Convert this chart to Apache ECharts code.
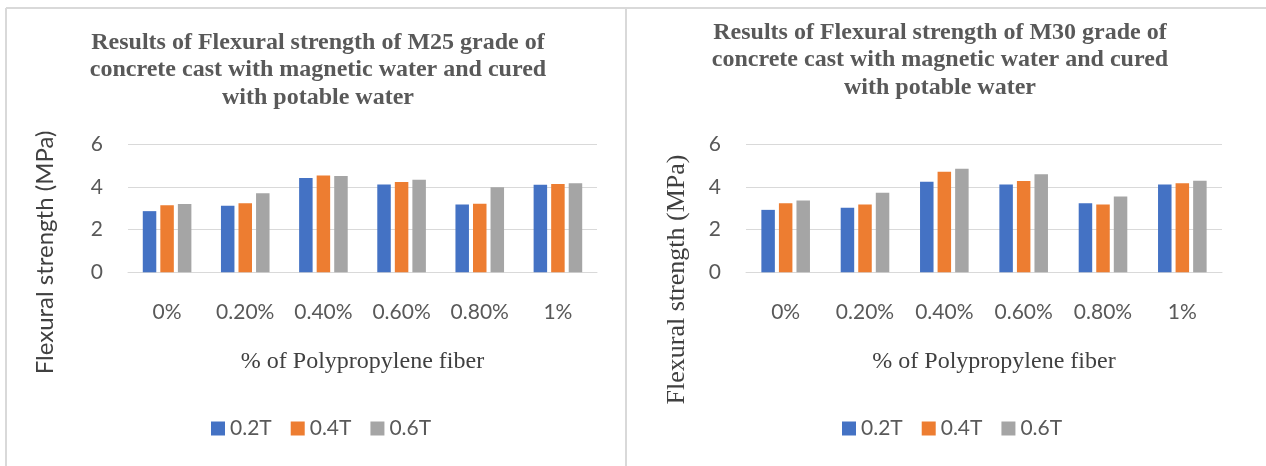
<!DOCTYPE html>
<html>
<head>
<meta charset="utf-8">
<script src="https://cdn.jsdelivr.net/npm/echarts@6/dist/echarts.min.js"></script>
<style>
  html, body { margin: 0; padding: 0; background: #ffffff; }
  #chart { width: 1266px; height: 466px; }
</style>
</head>
<body>
<div id="chart"></div>
<script>
// ---- data ----
const categories = ['0%', '0.20%', '0.40%', '0.60%', '0.80%', '1%'];
const seriesNames = ['0.2T', '0.4T', '0.6T'];
const m25_02T = [2.86, 3.11, 4.41, 4.11, 3.17, 4.09];
const m25_04T = [3.14, 3.23, 4.53, 4.22, 3.20, 4.13];
const m25_06T = [3.19, 3.70, 4.50, 4.33, 3.98, 4.16];
const m30_02T = [2.92, 3.02, 4.23, 4.11, 3.23, 4.11];
const m30_04T = [3.23, 3.17, 4.70, 4.27, 3.17, 4.16];
const m30_06T = [3.36, 3.72, 4.84, 4.58, 3.55, 4.28];
const yTicks = { min: 0, max: 6, interval: 2 };
const titleLeft = 'Results of Flexural strength of M25 grade of\nconcrete cast with magnetic water and cured\nwith potable water';
const titleRight = 'Results of Flexural strength of M30 grade of\nconcrete cast with magnetic water and cured\nwith potable water';
const xName = '% of Polypropylene fiber';
const yName = 'Flexural strength (MPa)';

// ---- style ----
const colors = ['#4472C4', '#ED7D31', '#A5A5A5'];
const sans = 'Lato, "Liberation Sans", sans-serif';
const serif = '"Liberation Serif", "DejaVu Serif", serif';
const labelColor = '#595959';
const gridColor = '#d9d9d9';

const chart = echarts.init(document.getElementById('chart'), null, { renderer: 'canvas' });

function makeTitle(text, x, top) {
  return {
    text: text,
    left: x,
    top: top,
    padding: 0,
    textAlign: 'center',
    textStyle: {
      fontFamily: serif,
      fontWeight: 'bold',
      fontSize: 24,
      lineHeight: 27.5,
      color: labelColor
    }
  };
}

function makeX(gridIndex, namePad) {
  return {
    type: 'category',
    gridIndex: gridIndex,
    data: categories,
    name: xName,
    nameLocation: 'middle',
    nameGap: 77,
    nameTextStyle: { fontFamily: serif, fontSize: 24, color: '#404040', padding: namePad },
    axisTick: { show: false },
    axisLine: { show: true, lineStyle: { color: gridColor, width: 1 } },
    axisLabel: { margin: 29, fontFamily: sans, fontSize: 21, color: labelColor }
  };
}

function makeY(gridIndex) {
  return {
    type: 'value',
    gridIndex: gridIndex,
    min: yTicks.min,
    max: yTicks.max,
    interval: yTicks.interval,
    axisLine: { show: false },
    axisTick: { show: false },
    axisLabel: { margin: 25, fontFamily: sans, fontSize: 21, color: labelColor },
    splitLine: { lineStyle: { color: gridColor, width: 1 } }
  };
}

function makeBar(name, data, idx, axisIdx) {
  return {
    type: 'bar',
    name: name,
    data: data,
    xAxisIndex: axisIdx,
    yAxisIndex: axisIdx,
    barWidth: 13.5,
    barGap: '30%',
    itemStyle: { color: colors[idx] },
    emphasis: { disabled: true }
  };
}

function makeLegend(left) {
  return {
    data: seriesNames,
    left: left,
    top: 418,
    padding: 0,
    orient: 'horizontal',
    icon: 'rect',
    itemWidth: 14,
    itemHeight: 14,
    itemGap: 19,
    textStyle: { fontFamily: sans, fontSize: 21, color: labelColor },
    selectedMode: false
  };
}

const option = {
  backgroundColor: '#ffffff',
  animation: false,
  color: colors,
  title: [
    makeTitle(titleLeft, 318, 29),
    makeTitle(titleRight, 940, 19)
  ],
  legend: [makeLegend(211), makeLegend(842)],
  grid: [
    { left: 128, right: 1266 - 597, top: 144, bottom: 466 - 272.3, containLabel: false, outerBoundsMode: 'none' },
    { left: 746, right: 1266 - 1222, top: 144, bottom: 466 - 272.3, containLabel: false, outerBoundsMode: 'none' }
  ],
  xAxis: [makeX(0, [0, 0, 0, 0]), makeX(1, [0, 0, 0, 20])],
  yAxis: [makeY(0), makeY(1)],
  series: [
    makeBar(seriesNames[0], m25_02T, 0, 0),
    makeBar(seriesNames[1], m25_04T, 1, 0),
    makeBar(seriesNames[2], m25_06T, 2, 0),
    makeBar(seriesNames[0], m30_02T, 0, 1),
    makeBar(seriesNames[1], m30_04T, 1, 1),
    makeBar(seriesNames[2], m30_06T, 2, 1)
  ],
  graphic: [
    { type: 'line', shape: { x1: 6, y1: 8, x2: 1266, y2: 8 }, style: { stroke: gridColor, lineWidth: 2 }, silent: true },
    { type: 'line', shape: { x1: 6, y1: 8, x2: 6, y2: 466 }, style: { stroke: gridColor, lineWidth: 2 }, silent: true },
    { type: 'line', shape: { x1: 626, y1: 8, x2: 626, y2: 466 }, style: { stroke: gridColor, lineWidth: 2 }, silent: true },
    {
      type: 'text', x: 45, y: 252.5, rotation: Math.PI / 2, silent: true,
      style: { text: yName, fontFamily: sans, fontSize: 24, fill: '#404040', textAlign: 'center', textVerticalAlign: 'middle' }
    },
    {
      type: 'text', x: 677, y: 279.5, rotation: Math.PI / 2, silent: true,
      style: { text: yName, fontFamily: serif, fontSize: 26, fill: '#404040', textAlign: 'center', textVerticalAlign: 'middle' }
    }
  ]
};

chart.setOption(option);
</script>
</body>
</html>
